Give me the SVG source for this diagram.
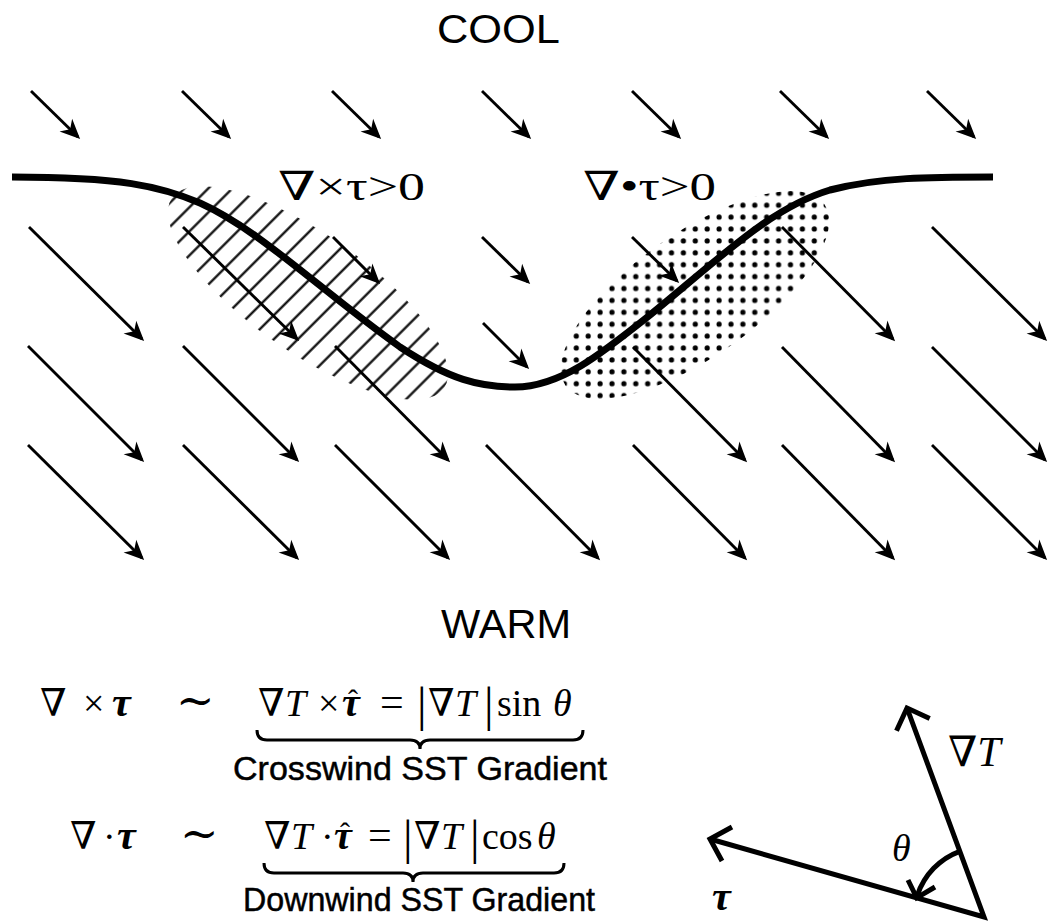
<svg xmlns="http://www.w3.org/2000/svg" width="1051" height="923" viewBox="0 0 1051 923">
<style>
.wind{stroke:#000;stroke-width:2.9;fill:none;marker-end:url(#ah)}
.sans{font-family:"Liberation Sans",Arial,sans-serif;fill:#000}
.lbl{stroke:#000;stroke-width:0.5}
.serif{font-family:"Liberation Serif","DejaVu Serif",serif;fill:#000}
.bi{font-weight:bold;font-style:italic}
.it{font-style:italic}
.brace{fill:none;stroke:#000;stroke-width:3}
.vec{fill:none;stroke:#000;stroke-width:5;stroke-linejoin:miter}
.front{fill:none;stroke:#000;stroke-width:7;stroke-linecap:butt}
</style>
<defs>
<marker id="ah" markerUnits="userSpaceOnUse" viewBox="-22 -11 26 22" markerWidth="26" markerHeight="22" refX="0" refY="0" orient="auto"><path d="M3,0 L-17,-9 L-11,0 L-17,9 Z" fill="#000"/></marker>
<pattern id="hatch" patternUnits="userSpaceOnUse" width="17" height="17" patternTransform="rotate(45)"><line x1="8.5" y1="-1" x2="8.5" y2="18" stroke="#000" stroke-width="2.2"/></pattern>
<pattern id="dots" patternUnits="userSpaceOnUse" width="11.9" height="11.9"><circle cx="5.1" cy="2.9" r="2.6" fill="#000"/></pattern>
<clipPath id="curlClip"><ellipse cx="308" cy="293" rx="166" ry="59" transform="rotate(35 308 293)"/></clipPath>
<clipPath id="divClip"><ellipse cx="695" cy="295" rx="158" ry="62" transform="rotate(-35 695 295)"/></clipPath>
</defs>
<rect width="1051" height="923" fill="#fff"/>

<g id="curl-region"><rect x="120" y="150" width="380" height="290" fill="url(#hatch)" clip-path="url(#curlClip)"/></g>
<g id="div-region"><rect x="520" y="150" width="360" height="290" fill="url(#dots)" clip-path="url(#divClip)"/></g>

<g id="wind-arrows">
<line class="wind" x1="31" y1="91" x2="78" y2="137"/>
<line class="wind" x1="182" y1="91" x2="229" y2="137"/>
<line class="wind" x1="332" y1="91" x2="379" y2="137"/>
<line class="wind" x1="482" y1="91" x2="529" y2="137"/>
<line class="wind" x1="632" y1="91" x2="679" y2="137"/>
<line class="wind" x1="780" y1="91" x2="827" y2="137"/>
<line class="wind" x1="927" y1="91" x2="974" y2="137"/>

<line class="wind" x1="29" y1="227" x2="142" y2="339"/>
<line class="wind" x1="183" y1="227" x2="297" y2="339"/>
<line class="wind" x1="333" y1="237" x2="378" y2="282"/>
<line class="wind" x1="482" y1="237" x2="528" y2="282"/>
<line class="wind" x1="632" y1="237" x2="677" y2="281"/>
<line class="wind" x1="782" y1="227" x2="893" y2="339"/>
<line class="wind" x1="932" y1="227" x2="1045" y2="339"/>

<line class="wind" x1="28" y1="346" x2="142" y2="460"/>
<line class="wind" x1="183" y1="346" x2="297" y2="460"/>
<line class="wind" x1="335" y1="346" x2="448" y2="460"/>
<line class="wind" x1="483" y1="323" x2="527" y2="367"/>
<line class="wind" x1="633" y1="347" x2="745" y2="460"/>
<line class="wind" x1="782" y1="347" x2="893" y2="460"/>
<line class="wind" x1="932" y1="347" x2="1045" y2="460"/>

<line class="wind" x1="28" y1="445" x2="142" y2="558"/>
<line class="wind" x1="183" y1="445" x2="297" y2="558"/>
<line class="wind" x1="335" y1="445" x2="448" y2="558"/>
<line class="wind" x1="486" y1="445" x2="598" y2="558"/>
<line class="wind" x1="633" y1="445" x2="745" y2="558"/>
<line class="wind" x1="782" y1="445" x2="893" y2="558"/>
<line class="wind" x1="932" y1="445" x2="1045" y2="558"/>
</g>

<g id="front"><path class="front" d="M12,177 C120,177 160,186 200,203 C260,230 320,290 400,347 C450,380 480,387 515,387 C560,387 600,355 650,315 C720,258 770,208 830,190 C880,177 930,177 993,177"/></g>

<g id="label-cool"><text class="sans" x="437" y="43" font-size="41" textLength="123" lengthAdjust="spacingAndGlyphs">COOL</text></g>
<g id="label-warm"><text class="sans" x="441" y="638" font-size="41" textLength="130" lengthAdjust="spacingAndGlyphs">WARM</text></g>
<g id="label-curl"><text class="serif" x="278" y="200" font-size="40" textLength="147" lengthAdjust="spacingAndGlyphs">∇×τ&gt;0</text></g>
<g id="label-div"><text class="serif" x="583" y="200" font-size="40" textLength="133" lengthAdjust="spacingAndGlyphs">∇•τ&gt;0</text></g>

<g id="eq-curl">
<text class="serif" font-size="38"><tspan x="40" y="716">∇</tspan><tspan x="83" y="716">×</tspan><tspan x="112" y="716" class="bi" font-size="42">τ</tspan><tspan x="176" y="716" font-size="46">∼</tspan><tspan x="258" y="716">∇</tspan><tspan x="285" y="716" class="it">T</tspan><tspan x="318" y="716">×</tspan><tspan x="342" y="716" class="bi" font-size="40">τ</tspan><tspan x="348" y="710" font-size="30">ˆ</tspan><tspan x="380" y="716" font-size="42">=</tspan><tspan x="428" y="716">∇</tspan><tspan x="455" y="716" class="it">T</tspan><tspan x="497" y="716">sin</tspan><tspan x="553" y="716" class="it">θ</tspan><tspan x="417" y="721" font-size="48">|</tspan><tspan x="484" y="721" font-size="48">|</tspan></text>
<path class="brace" d="M257,730 Q257,740 267,740 L410,740 Q420,740 420,749 Q420,740 430,740 L573,740 Q583,740 583,730"/>
<text class="sans lbl" x="233" y="780" font-size="34" textLength="374" lengthAdjust="spacingAndGlyphs">Crosswind SST Gradient</text>
</g>

<g id="eq-div">
<text class="serif" font-size="38"><tspan x="70" y="849">∇</tspan><tspan x="103" y="849">·</tspan><tspan x="117" y="849" class="bi" font-size="42">τ</tspan><tspan x="180" y="849" font-size="46">∼</tspan><tspan x="264" y="849">∇</tspan><tspan x="291" y="849" class="it">T</tspan><tspan x="321" y="849">·</tspan><tspan x="334" y="849" class="bi" font-size="40">τ</tspan><tspan x="340" y="843" font-size="30">ˆ</tspan><tspan x="368" y="849" font-size="42">=</tspan><tspan x="414" y="849">∇</tspan><tspan x="441" y="849" class="it">T</tspan><tspan x="482" y="849">cos</tspan><tspan x="537" y="849" class="it">θ</tspan><tspan x="403" y="854" font-size="48">|</tspan><tspan x="470" y="854" font-size="48">|</tspan></text>
<path class="brace" d="M264,863 Q264,873 274,873 L403,873 Q413,873 413,882 Q413,873 423,873 L554,873 Q564,873 564,863"/>
<text class="sans lbl" x="243" y="911" font-size="34" textLength="352" lengthAdjust="spacingAndGlyphs">Downwind SST Gradient</text>
</g>

<g id="angle-diagram">
<path class="vec" d="M710,839 L984,917 L907,708"/>
<path class="vec" d="M896.5,730.7 L907,708 L929.7,718.5"/>
<path class="vec" d="M722,861 L710,839 L732,827"/>
<path class="vec" stroke-width="4.5" d="M959.8,851.3 A70,70 0 0 0 917.5,895"/>
<path class="vec" stroke-width="4.5" d="M908,880 L916.7,897.8 L935,887"/>
<text class="serif" font-size="42" x="948" y="766">∇<tspan class="it">T</tspan></text>
<text class="serif it" font-size="38" x="892" y="861">θ</text>
<text class="serif bi" font-size="42" x="712" y="910">τ</text>
</g>
</svg>
